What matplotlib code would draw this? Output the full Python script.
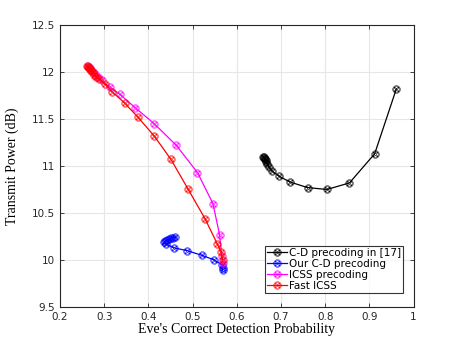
import matplotlib
matplotlib.use("Agg")
import matplotlib.pyplot as plt

cd17_x = [0.961, 0.912, 0.855, 0.804, 0.760, 0.720, 0.696, 0.679, 0.672, 0.669, 0.667, 0.665, 0.663, 0.662, 0.661, 0.660]
cd17_y = [11.82, 11.13, 10.82, 10.75, 10.77, 10.83, 10.89, 10.95, 10.99, 11.02, 11.04, 11.06, 11.07, 11.08, 11.09, 11.10]

our_x = [0.568, 0.568, 0.566, 0.549, 0.521, 0.487, 0.457, 0.440, 0.436, 0.438, 0.442, 0.446, 0.451, 0.456, 0.461]
our_y = [9.89, 9.92, 9.95, 10.00, 10.05, 10.10, 10.13, 10.17, 10.19, 10.20, 10.21, 10.22, 10.23, 10.235, 10.24]

icss_x = [0.263, 0.265, 0.268, 0.271, 0.275, 0.280, 0.287, 0.294, 0.312, 0.336, 0.370, 0.413, 0.463, 0.511, 0.546, 0.561, 0.566, 0.568]
icss_y = [12.06, 12.05, 12.04, 12.02, 12.00, 11.98, 11.95, 11.91, 11.84, 11.76, 11.62, 11.45, 11.22, 10.93, 10.60, 10.27, 10.04, 9.97]

fast_x = [0.262, 0.264, 0.266, 0.268, 0.271, 0.274, 0.278, 0.282, 0.288, 0.302, 0.318, 0.346, 0.376, 0.413, 0.451, 0.489, 0.528, 0.556, 0.565, 0.568]
fast_y = [12.06, 12.05, 12.04, 12.03, 12.01, 12.00, 11.97, 11.95, 11.93, 11.87, 11.79, 11.67, 11.52, 11.32, 11.07, 10.76, 10.44, 10.17, 10.08, 10.00]

labels = ["C-D precoding in [17]", "Our C-D precoding", "ICSS precoding", "Fast ICSS"]
colors = ["black", "blue", "magenta", "red"]

fig = plt.figure(figsize=(4.57, 3.46), dpi=100)
ax = fig.add_axes([0.1313, 0.1127, 0.7737, 0.8153])

for xs, ys, lab, c in zip([cd17_x, our_x, icss_x, fast_x], [cd17_y, our_y, icss_y, fast_y], labels, colors):
    ax.plot(xs, ys, color=c, marker=r'$\otimes$', markersize=5.5, markerfacecolor='none',
            markeredgewidth=0.35, linewidth=0.9, label=lab)

ax.set_xlim(0.2, 1.0)
ax.set_ylim(9.5, 12.5)
ax.set_xticks([0.2, 0.3, 0.4, 0.5, 0.6, 0.7, 0.8, 0.9, 1.0])
ax.set_xticklabels(["0.2", "0.3", "0.4", "0.5", "0.6", "0.7", "0.8", "0.9", "1"])
ax.set_yticks([9.5, 10, 10.5, 11, 11.5, 12, 12.5])
ax.set_yticklabels(["9.5", "10", "10.5", "11", "11.5", "12", "12.5"])
ax.grid(True, color='#e6e6e6', linewidth=0.8)
ax.set_axisbelow(True)
ax.tick_params(direction='in', top=True, right=True, labelsize=7.5, length=3, width=0.6, colors='#262626')
for s in ax.spines.values():
    s.set_linewidth(0.8)
    s.set_color('#262626')

ax.set_xlabel("Eve's Correct Detection Probability", family='Liberation Serif', fontsize=10, labelpad=1)
ax.set_ylabel("Transmit Power (dB)", family='Liberation Serif', fontsize=10, labelpad=9)

leg = ax.legend(loc='lower right', bbox_to_anchor=(0.97, 0.05), fontsize=7.5, frameon=True, fancybox=False,
                edgecolor='black', handlelength=1.9, handletextpad=0.2, borderpad=0.2, labelspacing=0.1,
                borderaxespad=0)
leg.get_frame().set_linewidth(0.8)

fig.savefig("out.png", dpi=100)
